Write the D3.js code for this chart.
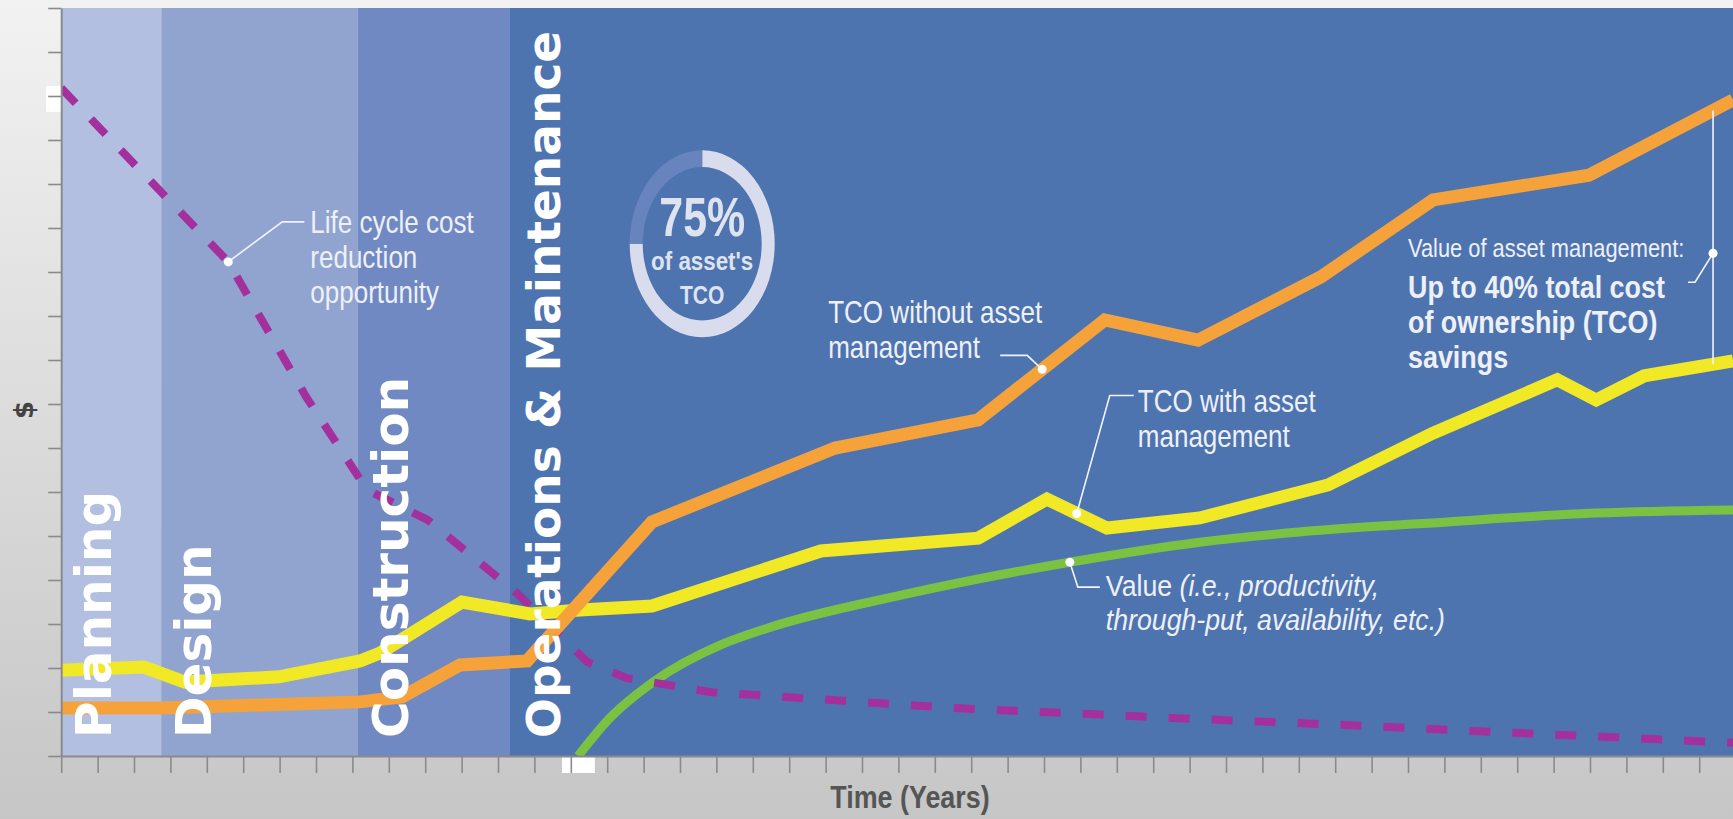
<!DOCTYPE html>
<html>
<head>
<meta charset="utf-8">
<script src="https://cdnjs.cloudflare.com/ajax/libs/d3/7.8.5/d3.min.js"></script>
<style>
  body { margin: 0; background: #c8c8c8; }
  #chartContainer { width: 1733px; height: 819px; }
  text { font-family: 'Liberation Sans', Arial, sans-serif; white-space: pre; }
</style>
</head>
<body>
<div id="chartContainer"></div>
<script>
// life cycle phases, boundaries in years
const phases = ["Planning", "Design", "Construction", "Operations & Maintenance"];
const phase_bounds = [0, 2.75, 8.15, 12.33, 46];
const phase_colors = ["#b3bfe0", "#91a4d0", "#7189c2", "#4e74b0"];

// [year, $]
const tco_without = [[0,1.09],[2.74,1.09],[8.21,1.23],[9.36,1.34],[10.96,2.07],[12.8,2.16],
    [16.23,5.32],[21.26,7.0],[25.19,7.64],[28.67,9.91],[31.23,9.45],[34.61,10.89],
    [37.69,12.64],[41.97,13.2],[45.93,14.91]];
const tco_with = [[0,1.95],[2.27,2.02],[3.4,1.68],[5.98,1.8],[8.21,2.16],[8.76,2.34],
    [11.01,3.5],[12.88,3.23],[14.25,3.32],[16.23,3.41],[20.87,4.66],[25.19,4.95],
    [27.08,5.84],[28.73,5.18],[31.28,5.41],[34.8,6.16],[37.69,7.34],[41.1,8.55],
    [42.17,8.09],[43.49,8.64],[45.93,8.98]];
const value_line = [[14.2,0],[15.07,0.86],[16.26,1.68],[18.1,2.52],[19.42,2.91],[23.1,3.66],
    [27.74,4.41],[31.28,4.86],[34.0,5.09],[38.07,5.32],[42.17,5.52],[45.93,5.59]];
const lcc_reduction = [[0,15.18],[4.59,11.23],[6.73,8.16],[8.4,6.05],[10.08,5.36],[12.52,3.7],
    [14.45,2.14],[15.54,1.77],[17.87,1.45],[24.55,1.09],[30.68,0.86],[35.43,0.7],
    [40.13,0.52],[45.93,0.3]];

const x_ticks = d3.range(0, 47);
const y_ticks = d3.range(0, 18);

// intercept markers on the axes
const x_marker = [13.76, 14.66];
const y_marker = [14.64, 15.23];

const donut_share = 0.75;
const donut_center = [17.61, 11.64];

// condensed look of the original type
const squeeze = 0.84;

function interp(series, xv) {
    for (let i = 1; i < series.length; i++) {
        if (xv <= series[i][0]) {
            let a = series[i - 1], b = series[i];
            return a[1] + (b[1] - a[1]) * (xv - a[0]) / (b[0] - a[0]);
        }
    }
    return series[series.length - 1][1];
}

function narrow_text(parent, tx, ty, sx) {
    return parent.append("text")
        .attr("transform", "translate(" + tx + "," + ty + ") scale(" + sx + ",1)");
}

function render_chart() {
    const width = 1733;
    const height = 819;

    let svg = d3.select('#chartContainer')
        .append("svg")
        .attr("width", width)
        .attr("height", height);

    // gray page gradient
    let defs = svg.append("defs");
    let grad = defs.append("linearGradient")
        .attr("id", "pageGrad")
        .attr("x1", 0).attr("y1", 0).attr("x2", 0).attr("y2", 1);
    grad.append("stop").attr("offset", "0%").attr("stop-color", "#f2f2f2");
    grad.append("stop").attr("offset", "100%").attr("stop-color", "#c6c6c6");

    svg.append("rect")
        .attr("width", width)
        .attr("height", height)
        .attr("fill", "url(#pageGrad)");

    let x = d3.scaleLinear()
        .domain([0, 46])
        .range([61.2, 61.2 + 46 * 36.4]);

    let y = d3.scaleLinear()
        .domain([0, 17])
        .range([756, 8]);

    defs.append("clipPath")
        .attr("id", "plotClip")
        .append("rect")
        .attr("x", x(0))
        .attr("y", y(17))
        .attr("width", width - x(0))
        .attr("height", y(0) - y(17));

    let plot = svg.append("g").attr("clip-path", "url(#plotClip)");

    // phase bands
    plot.selectAll("rect.band")
        .data(phases)
        .enter()
        .append("rect")
        .attr("class", "band")
        .attr("x", (d, i) => x(phase_bounds[i]))
        .attr("width", (d, i) => x(phase_bounds[i + 1]) - x(phase_bounds[i]))
        .attr("y", y(17))
        .attr("height", y(0) - y(17))
        .attr("fill", (d, i) => phase_colors[i]);

    // 75% donut
    let cx = x(donut_center[0]), cy = y(donut_center[1]);
    let donut = plot.append("g")
        .attr("transform", "translate(" + cx + "," + cy + ") scale(1,1.29)");
    let arc = d3.arc().innerRadius(59.5).outerRadius(72.5);
    donut.append("path")
        .attr("d", arc({startAngle: 0, endAngle: 2 * Math.PI * donut_share}))
        .attr("fill", "#d8dcec");
    donut.append("path")
        .attr("d", arc({startAngle: 2 * Math.PI * donut_share, endAngle: 2 * Math.PI}))
        .attr("fill", "#6884bf");

    let donutText = plot.append("g")
        .attr("fill", "#dfe3f0")
        .attr("font-weight", "bold")
        .attr("text-anchor", "middle");
    narrow_text(donutText, cx, cy - 8, 0.78)
        .attr("font-size", 55)
        .text(Math.round(donut_share * 100) + "%");
    narrow_text(donutText, cx, cy + 26, 0.86)
        .attr("font-size", 26)
        .text("of asset's");
    narrow_text(donutText, cx, cy + 60, squeeze)
        .attr("font-size", 25)
        .text("TCO");

    // lines
    let line = d3.line()
        .x(d => x(d[0]))
        .y(d => y(d[1]));

    plot.append("path")
        .datum(value_line)
        .attr("fill", "none")
        .attr("stroke", "#7cc242")
        .attr("stroke-width", 9)
        .attr("d", line.curve(d3.curveMonotoneX));

    line.curve(d3.curveLinear);

    plot.append("path")
        .datum(lcc_reduction)
        .attr("fill", "none")
        .attr("stroke", "#a3309c")
        .attr("stroke-width", 8)
        .attr("stroke-dasharray", "21,22")
        .attr("d", line);

    plot.append("path")
        .datum(tco_with)
        .attr("fill", "none")
        .attr("stroke", "#f1e826")
        .attr("stroke-width", 13)
        .attr("stroke-linejoin", "miter")
        .attr("d", line);

    plot.append("path")
        .datum(tco_without)
        .attr("fill", "none")
        .attr("stroke", "#f6a23b")
        .attr("stroke-width", 13)
        .attr("stroke-linejoin", "miter")
        .attr("d", line);

    // phase labels, rotated
    plot.selectAll("text.phase")
        .data(phases)
        .enter()
        .append("text")
        .attr("class", "phase")
        .attr("transform", (d, i) => "translate(" + (x(phase_bounds[i]) + 50) + ",738) rotate(-90)")
        .style("font-family", "'DejaVu Sans', sans-serif")
        .attr("font-weight", "bold")
        .attr("font-size", (d, i) => i === 3 ? 47 : 50)
        .attr("fill", "#ffffff")
        .text(d => d);

    // annotations
    let notes = svg.append("g").attr("fill", "#eef0f7");
    let leader = d3.line();

    function add_note(px, py, path, tx, lines) {
        notes.append("path")
            .attr("d", leader(path.map(p => [px + p[0], py + p[1]])))
            .attr("fill", "none")
            .attr("stroke", "#f2f4fa")
            .attr("stroke-width", 1.6);
        notes.append("circle")
            .attr("cx", px).attr("cy", py).attr("r", 4.5)
            .attr("fill", "#ffffff");
        lines.forEach(l => {
            // each run is its own text, placed after the one before it
            let offset = 0;
            let k = l.k || squeeze;
            l.parts.forEach(p => {
                let t = narrow_text(notes, px + tx + offset, py + l.dy, k)
                    .attr("font-size", l.size || 31)
                    .attr("font-weight", l.bold ? "bold" : "normal")
                    .attr("font-style", p.italic ? "italic" : "normal")
                    .text(p.text);
                offset += t.node().getComputedTextLength() * k;
            });
        });
    }

    // life cycle cost reduction
    let lx = lcc_reduction[1][0];
    add_note(x(lx), y(interp(lcc_reduction, lx)),
        [[0, 0], [54, -40], [76, -40]], 82,
        [{dy: -29, parts: [{text: "Life cycle cost"}]},
         {dy: 6, parts: [{text: "reduction"}]},
         {dy: 41, parts: [{text: "opportunity"}]}]);

    // TCO without asset management
    let ox = 26.95;
    add_note(x(ox), y(interp(tco_without, ox)),
        [[0, 0], [-15, -14], [-42, -14]], -214,
        [{dy: -46, parts: [{text: "TCO without asset"}]},
         {dy: -11, parts: [{text: "management"}]}]);

    // TCO with asset management
    let wx = 27.9;
    add_note(x(wx), y(interp(tco_with, wx)),
        [[0, 0], [33, -118], [57, -118]], 61,
        [{dy: -101, parts: [{text: "TCO with asset"}]},
         {dy: -66, parts: [{text: "management"}]}]);

    // value
    let vx = 27.71;
    add_note(x(vx), y(interp(value_line, vx)),
        [[0, 0], [8, 25], [30, 25]], 36,
        [{dy: 34, size: 30, k: 0.89, parts: [{text: "Value "}, {text: "(i.e., productivity,", italic: true}]},
         {dy: 68, size: 30, k: 0.89, parts: [{text: "through-put, availability, etc.)", italic: true}]}]);

    // savings bracket between the two TCO lines
    let sx = 45.38;
    let sTop = y(interp(tco_without, sx)), sBot = y(interp(tco_with, sx));
    notes.append("line")
        .attr("x1", x(sx)).attr("x2", x(sx))
        .attr("y1", sTop).attr("y2", sBot)
        .attr("stroke", "#f2f4fa")
        .attr("stroke-width", 1.6);
    add_note(x(sx), sBot - 111,
        [[0, 0], [-18, 29], [-25, 29]], -305,
        [{dy: 4, size: 26, parts: [{text: "Value of asset management:"}]},
         {dy: 45, size: 32, bold: true, parts: [{text: "Up to 40% total cost"}]},
         {dy: 80, size: 32, bold: true, parts: [{text: "of ownership (TCO)"}]},
         {dy: 115, size: 32, bold: true, parts: [{text: "savings"}]}]);

    // axis intercept markers
    svg.append("rect")
        .attr("x", x(x_marker[0]))
        .attr("width", x(x_marker[1]) - x(x_marker[0]))
        .attr("y", y(0))
        .attr("height", 17)
        .attr("fill", "#ffffff");
    svg.append("rect")
        .attr("x", x(0) - 15)
        .attr("width", 15)
        .attr("y", y(y_marker[1]))
        .attr("height", y(y_marker[0]) - y(y_marker[1]))
        .attr("fill", "#ffffff");

    // axes, ticks only
    let xAxis = svg.append("g")
        .attr("transform", "translate(0," + y(0) + ")")
        .call(d3.axisBottom(x).tickValues(x_ticks).tickSize(17).tickSizeOuter(0).tickFormat(""));
    let yAxis = svg.append("g")
        .attr("transform", "translate(" + x(0) + ",0)")
        .call(d3.axisLeft(y).tickValues(y_ticks).tickSize(13).tickSizeOuter(0).tickFormat(""));

    [xAxis, yAxis].forEach(a => {
        a.select(".domain").attr("stroke", "#8a8a8a").attr("stroke-width", 2);
        a.selectAll(".tick line").attr("stroke", "#8a8a8a").attr("stroke-width", 1.6);
    });

    // axis titles
    narrow_text(svg, 910, 808, squeeze)
        .attr("text-anchor", "middle")
        .attr("font-size", 32)
        .attr("font-weight", "bold")
        .attr("fill", "#555555")
        .text("Time (Years)");

    svg.append("text")
        .attr("transform", "translate(33,410) rotate(-90)")
        .attr("text-anchor", "middle")
        .style("font-family", "'DejaVu Sans', sans-serif")
        .attr("font-size", 26)
        .attr("font-weight", "bold")
        .attr("fill", "#444444")
        .text("$");
}

render_chart();
</script>
</body>
</html>
